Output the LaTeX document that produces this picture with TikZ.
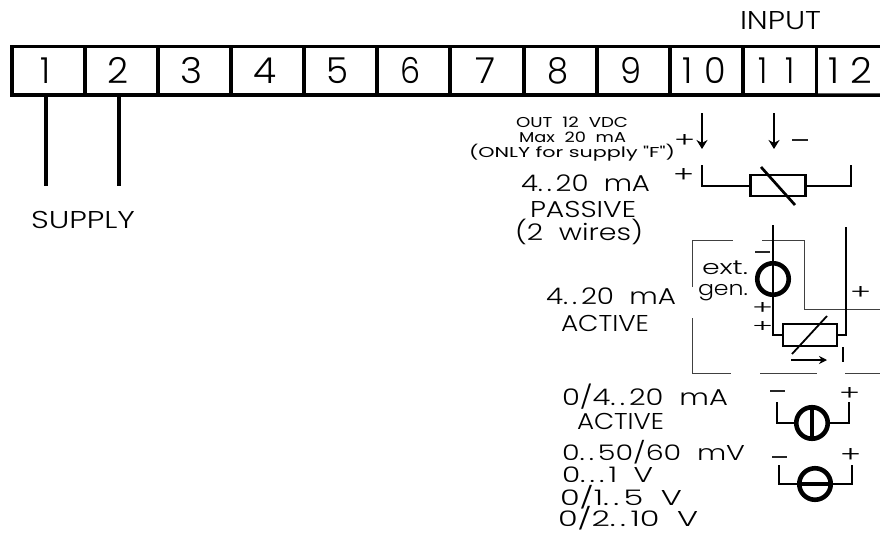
\documentclass[tikz,border=0pt]{standalone}
\usepackage{graphicx}
\usepackage{fontspec}
\setmainfont{Poppins Light}
\newfontfamily\regfont{Poppins}
\usetikzlibrary{arrows.meta}
\tikzset{
  lbl/.style={inner sep=0pt,outer sep=0pt,anchor=base west,text=black},
  term/.style={draw=black,line width=3.6pt,minimum width=73pt,minimum height=48.7pt,inner sep=0pt,outer sep=0pt},
  bus/.style={line width=3.6pt},
  heavy/.style={line width=4pt},
  wire/.style={line width=2.9pt,line cap=butt},
  thin frame/.style={line width=.9pt,draw=black!75},
  gauge/.style={draw=black,line width=4.6pt,circle,minimum size=31.5pt,inner sep=0pt,outer sep=0pt},
  res/.style={draw=black,line width=2.7pt,minimum width=55pt,minimum height=21pt,inner sep=0pt,outer sep=0pt},
  darrow/.style={line width=2.7pt,-{Stealth[length=9pt,width=11pt]}},
  minus/.style={line width=1.2pt,black!85}
}
\newlength\capH
\settoheight\capH{H}
% text stretched to a given width and cap height
\newcommand\Lbl[6]{\node[lbl] (#1) at (#2,#3) {\resizebox{#4pt}{#5pt}{\raisebox{0pt}[\capH]{#6}}};}
% plus sign: its own ink height
\newcommand\Pls[4]{\node[lbl] (#1) at (#2,#3) {\resizebox{21pt}{#4pt}{+}};}
\newcommand\gp{\hspace{.55em}}
\newcommand\dd{.\kern.14em.\kern.14em}
\begin{document}
\begin{tikzpicture}[x=1pt,y=-1pt]
\useasboundingbox (0,0) rectangle (880,533);
% terminal strip
\node[term] (t1) at (48.3,70.7) {};
\foreach \n/\c in {2/121.3,3/194.3,4/267.5,5/340.5,6/413.5,7/487,8/560.5,9/633.5,10/706.5,11/780}{
  \node[term] (t\n) at (\c,70.7) {};
}
\coordinate (t12top) at (880,46.35);
\coordinate (t12bot) at (880,95.05);
\draw[bus] (t11.north east) -- (t12top);
\draw[bus] (t11.south east) -- (t12bot);
\Lbl{d1}{40}{83}{10}{25}{1}
\Lbl{d2}{107}{83}{21}{25}{2}
\Lbl{d3}{180}{83}{22}{25}{3}
\Lbl{d4}{253}{83}{23}{25}{4}
\Lbl{d5}{326}{83}{22}{25}{5}
\Lbl{d6}{400}{83}{20}{25}{6}
\Lbl{d7}{475}{83}{20}{25}{7}
\Lbl{d8}{547}{83}{21}{25}{8}
\Lbl{d9}{620}{83}{21}{25}{9}
\Lbl{d10}{682}{83}{44}{25}{1\hspace{.35em}0}
\Lbl{d11}{758}{83}{37}{25}{1\hspace{.6em}1}
\Lbl{d12}{828}{83}{44}{25}{1\hspace{.3em}2}
\Lbl{input}{740}{29}{81}{18}{INPUT}
% supply
\coordinate (s1) at (46,186);
\coordinate (s2) at (119,186);
\draw[heavy] (s1 |- t1.south) -- (s1);
\draw[heavy] (s2 |- t2.south) -- (s2);
\Lbl{supply}{31}{228}{104}{17}{SUPPLY}
% output notes
\Lbl{out}{516}{127}{112}{10}{\regfont OUT\gp 12\gp VDC}
\Lbl{maxc}{519}{142}{107}{10}{\regfont Max\gp 20\gp mA}
\Lbl{only}{469}{157}{206}{10}{\regfont (ONLY for supply "F")}
\Pls{pa}{674}{147}{13}
\coordinate (a1s) at (702,113); \coordinate (a1e) at (702,149);
\coordinate (a2s) at (774,113); \coordinate (a2e) at (774,149);
\draw[darrow] (a1s) -- (a1e);
\draw[darrow] (a2s) -- (a2e);
\coordinate (m1a) at (792,140); \coordinate (m1b) at (808,140);
\draw[minus] (m1a) -- (m1b);
% passive
\Pls{pb}{673}{182}{14}
\Lbl{p1}{521}{191}{129}{16}{4\dd 20\gp mA}
\Lbl{p2}{530}{217}{106}{16}{PASSIVE}
\Lbl{p3}{515}{240}{128}{16}{(2\gp wires)}
\node[res] (r1) at (778,185.5) {};
\coordinate (r1a) at (702,165); \coordinate (r1ac) at (702,186);
\coordinate (r1b) at (851,165); \coordinate (r1bc) at (851,186);
\draw[wire] (r1a) -- (r1ac) -- (r1.west |- r1ac);
\draw[wire] (r1b) -- (r1bc) -- (r1.east |- r1bc);
\coordinate (r1d1) at (761,167); \coordinate (r1d2) at (795,205);
\draw[line width=2.7pt] (r1d1) -- (r1d2);
% active with external generator: thin frame
\coordinate (f1) at (692,240); \coordinate (f2) at (692,287);
\coordinate (f3) at (692,318); \coordinate (f4) at (692,373);
\coordinate (f5) at (733,240); \coordinate (f6) at (762,240);
\coordinate (f7) at (804,240); \coordinate (f8) at (804,309);
\coordinate (f9) at (880,309);
\coordinate (f10) at (731,373); \coordinate (f11) at (760,373);
\coordinate (f12) at (817,373); \coordinate (f13) at (845,373);
\coordinate (f14) at (880,373);
\draw[thin frame] (f2) -- (f1) -- (f5);
\draw[thin frame] (f6) -- (f7) -- (f8) -- (f9);
\draw[thin frame] (f3) -- (f4) -- (f10);
\draw[thin frame] (f11) -- (f12);
\draw[thin frame] (f13) -- (f14);
\node[gauge] (g1) at (773,279) {};
\node[res,minimum width=54pt,minimum height=22pt] (r2) at (810,335) {};
\coordinate (w1) at (773,225); \coordinate (w1c) at (773,335);
\coordinate (w2) at (846,227); \coordinate (w2c) at (846,335);
\draw[wire] (w1) -- (w1c) -- (r2.west |- w1c);
\draw[wire] (w2) -- (w2c) -- (r2.east |- w2c);
\coordinate (r2d1) at (792,354); \coordinate (r2d2) at (827,316);
\draw[line width=1.8pt] (r2d1) -- (r2d2);
\coordinate (ar1) at (791,360); \coordinate (ar2) at (827,360);
\draw[line width=2.2pt,-{Stealth[length=8pt,width=8pt]}] (ar1) -- (ar2);
\coordinate (i1) at (843,347); \coordinate (i2) at (843,362);
\draw[line width=1.4pt] (i1) -- (i2);
\coordinate (m2a) at (755,252); \coordinate (m2b) at (770,252);
\draw[minus] (m2a) -- (m2b);
\Lbl{ext}{702}{274}{46}{14}{ext.}
\Lbl{gen}{698}{295}{50}{14}{gen.}
\Pls{pc}{752}{314}{12}
\Pls{pd}{752}{332}{11}
\Pls{pe}{850}{299}{13}
\Lbl{a1}{546}{304}{130}{16}{4\dd 20\gp mA}
\Lbl{a2}{561}{331}{88}{16}{ACTIVE}
% 0/4..20 mA
\Lbl{b1}{562}{405}{166}{16}{0/4\dd 20\gp mA}
\Lbl{b2}{577}{429}{87}{16}{ACTIVE}
\node[gauge] (g2) at (812,423) {};
\coordinate (g2a) at (777,402); \coordinate (g2ac) at (777,423);
\coordinate (g2b) at (849,402); \coordinate (g2bc) at (849,423);
\draw[wire] (g2a) -- (g2ac) -- (g2.west);
\draw[wire] (g2b) -- (g2bc) -- (g2.east);
\draw[line width=3.4pt] (g2.north) -- (g2.south);
\coordinate (m3a) at (770,391); \coordinate (m3b) at (785,391);
\draw[minus] (m3a) -- (m3b);
\Pls{pf}{839}{400}{13}
% voltage
\Lbl{c1}{562}{460}{183}{15}{0\dd 50/60\gp mV}
\Lbl{c2}{562}{482}{91}{15}{0\dd .\kern.14em1\gp V}
\Lbl{c3}{560}{505}{122}{15}{0/1\dd 5\gp V}
\Lbl{c4}{558}{526}{140}{15}{0/2\dd 10\gp V}
\node[gauge] (g3) at (815,484) {};
\coordinate (g3a) at (779,465); \coordinate (g3ac) at (779,484);
\coordinate (g3b) at (852,465); \coordinate (g3bc) at (852,484);
\draw[wire] (g3a) -- (g3ac) -- (g3.west);
\draw[wire] (g3b) -- (g3bc) -- (g3.east);
\draw[line width=3.4pt] (g3.west) -- (g3.east);
\coordinate (m4a) at (772,457); \coordinate (m4b) at (787,457);
\draw[minus] (m4a) -- (m4b);
\Pls{pg}{840}{462}{14}
\end{tikzpicture}
\end{document}
